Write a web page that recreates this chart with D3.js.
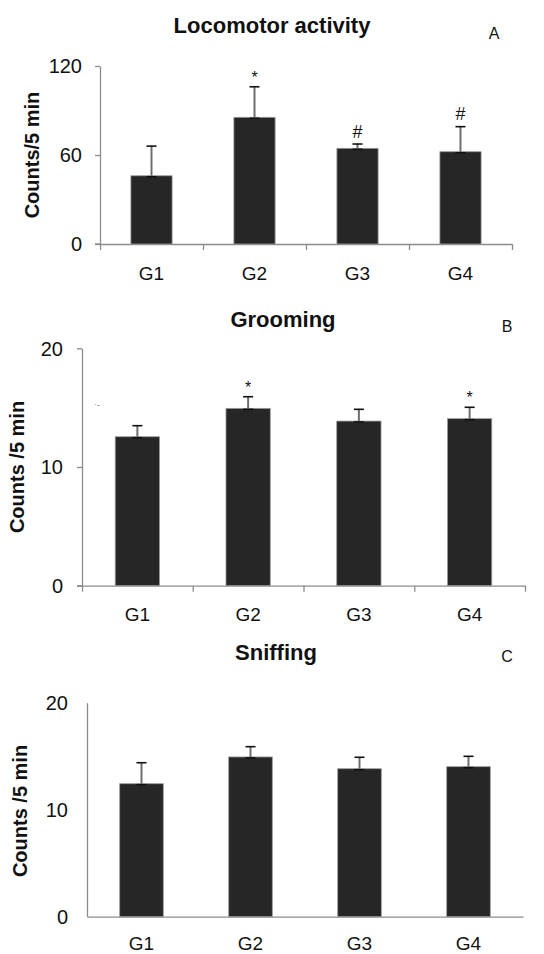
<!DOCTYPE html>
<html>
<head>
<meta charset="utf-8">
<script src="https://cdn.jsdelivr.net/npm/d3@7"></script>
<style>
	body { margin: 0; background: #fff; }
	svg { display: block; font-family: "Liberation Sans", Arial, sans-serif; }
</style>
</head>
<body>
<svg id="chart" width="544" height="954"></svg>
<script>

var groups = [ 'G1', 'G2', 'G3', 'G4' ];

var locomotorMeans = [ 46, 85.4, 64.5, 62.2 ];
var locomotorErrors = [ 20, 20.6, 2.9, 16.9 ];
var locomotorMarks = [ '', '*', '#', '#' ];
var locomotorTicks = [ 0, 60, 120 ];

var groomingMeans = [ 12.55, 14.94, 13.87, 14.07 ];
var groomingErrors = [ 0.93, 0.98, 0.99, 0.96 ];
var groomingMarks = [ '', '*', '', '*' ];

var sniffingMeans = [ 12.43, 14.93, 13.83, 14.02 ];
var sniffingErrors = [ 1.96, 0.96, 1.07, 0.97 ];
var sniffingMarks = [ '', '', '', '' ];

var countTicks = [ 0, 10, 20 ];

var svg = d3.select( '#chart' );

var drawPanel = function ( opts ) {

	var g = svg.append( 'g' );

	var x = d3.scaleBand().domain( groups ).range( [ opts.left, opts.right ] )
		.paddingInner( 0.6 ).paddingOuter( 0.3 );
	var edges = d3.scaleLinear().domain( [ 0, groups.length ] ).range( [ opts.left, opts.right ] );
	var y = d3.scaleLinear().domain( [ 0, opts.max ] ).range( [ opts.bottom, opts.top ] );

	var data = groups.map( function ( name, i ) {
		return { name: name, mean: opts.means[i], err: opts.errors[i], mark: opts.marks[i] };
	} );

	// y axis
	var yAxis = d3.axisLeft( y )
		.tickValues( opts.ticks )
		.tickSize( opts.ticks_shown ? 5 : 0 )
		.tickSizeOuter( 0 )
		.tickFormat( '' );
	var ya = g.append( 'g' )
		.attr( 'transform', 'translate(' + opts.left + ',0)' )
		.call( yAxis );
	ya.selectAll( 'path, line' ).attr( 'stroke', '#8c8c8c' ).attr( 'stroke-width', 1.3 );

	g.selectAll( 'text.ytick' )
		.data( opts.ticks )
		.enter()
		.append( 'text' )
		.classed( 'ytick', true )
		.attr( 'x', opts.tickLabelX )
		.attr( 'y', function ( d ) { return y( d ); } )
		.attr( 'dy', '0.36em' )
		.attr( 'text-anchor', 'end' )
		.style( 'font-size', '20px' )
		.style( 'fill', '#111' )
		.text( function ( d ) { return d; } );

	// x axis with ticks on the band edges
	var xAxis = d3.axisBottom( edges )
		.tickValues( opts.ticks_shown ? d3.range( groups.length + 1 ) : [] )
		.tickSize( 6 )
		.tickSizeOuter( 0 )
		.tickFormat( '' );
	var xa = g.append( 'g' )
		.attr( 'transform', 'translate(0,' + opts.bottom + ')' )
		.call( xAxis );
	xa.selectAll( 'path, line' ).attr( 'stroke', '#8c8c8c' ).attr( 'stroke-width', 1.3 );
	if ( opts.ticks_shown ) {
		g.append( 'line' )
			.attr( 'x1', opts.left - 5 ).attr( 'x2', opts.left )
			.attr( 'y1', opts.bottom ).attr( 'y2', opts.bottom )
			.attr( 'stroke', '#8c8c8c' ).attr( 'stroke-width', 1.3 );
	}

	g.selectAll( 'text.xlab' )
		.data( groups )
		.enter()
		.append( 'text' )
		.classed( 'xlab', true )
		.attr( 'x', function ( d ) { return x( d ) + x.bandwidth() / 2; } )
		.attr( 'y', opts.xLabelY )
		.attr( 'text-anchor', 'middle' )
		.style( 'font-size', '19px' )
		.style( 'fill', '#111' )
		.text( function ( d ) { return d; } );

	// bars
	g.selectAll( 'rect.bar' )
		.data( data )
		.enter()
		.append( 'rect' )
		.classed( 'bar', true )
		.attr( 'x', function ( d ) { return x( d.name ); } )
		.attr( 'y', function ( d ) { return y( d.mean ); } )
		.attr( 'width', x.bandwidth() )
		.attr( 'height', function ( d ) { return opts.bottom - y( d.mean ); } )
		.attr( 'fill', '#262626' )
		.attr( 'stroke', '#9a9a9a' )
		.attr( 'stroke-width', 0.8 );

	// error bars
	var cx = function ( d ) { return x( d.name ) + x.bandwidth() / 2; };
	g.selectAll( 'line.err' )
		.data( data )
		.enter()
		.append( 'line' )
		.classed( 'err', true )
		.attr( 'x1', cx ).attr( 'x2', cx )
		.attr( 'y1', function ( d ) { return y( d.mean ); } )
		.attr( 'y2', function ( d ) { return y( d.mean + d.err ); } )
		.attr( 'stroke', '#6e6e6e' )
		.attr( 'stroke-width', 2 );

	[ 'top', 'base' ].forEach( function ( which ) {
		g.selectAll( 'line.cap-' + which )
			.data( data )
			.enter()
			.append( 'line' )
			.attr( 'x1', function ( d ) { return cx( d ) - 5; } )
			.attr( 'x2', function ( d ) { return cx( d ) + 5; } )
			.attr( 'y1', function ( d ) { return which === 'top' ? y( d.mean + d.err ) : y( d.mean ) + 1; } )
			.attr( 'y2', function ( d ) { return which === 'top' ? y( d.mean + d.err ) : y( d.mean ) + 1; } )
			.attr( 'stroke', '#111' )
			.attr( 'stroke-width', 1.6 );
	} );

	// significance marks
	g.selectAll( 'text.mark' )
		.data( data.filter( function ( d ) { return d.mark !== ''; } ) )
		.enter()
		.append( 'text' )
		.classed( 'mark', true )
		.attr( 'x', cx )
		.attr( 'y', function ( d ) {
			var center = y( d.mean + d.err ) - 13;
			return d.mark === '*' ? center + 9 : center + 6.5;
		} )
		.attr( 'text-anchor', 'middle' )
		.style( 'font-size', function ( d ) { return d.mark === '*' ? '16px' : '18px'; } )
		.style( 'fill', '#111' )
		.text( function ( d ) { return d.mark; } );

	// titles
	g.append( 'text' )
		.attr( 'x', opts.titleX )
		.attr( 'y', opts.titleY )
		.attr( 'text-anchor', 'middle' )
		.style( 'font-size', '22px' )
		.style( 'font-weight', 'bold' )
		.style( 'fill', '#111' )
		.text( opts.title );

	g.append( 'text' )
		.attr( 'x', opts.letterX )
		.attr( 'y', opts.letterY )
		.attr( 'text-anchor', 'middle' )
		.style( 'font-size', '16px' )
		.style( 'fill', '#111' )
		.text( opts.letter );

	g.append( 'text' )
		.attr( 'transform', 'translate(' + ( opts.yLabelX + 7 ) + ',' + opts.yLabelY + ') rotate(-90)' )
		.attr( 'text-anchor', 'middle' )
		.style( 'font-size', '20px' )
		.style( 'font-weight', 'bold' )
		.style( 'fill', '#111' )
		.text( opts.yLabel );

};

drawPanel( {
	means: locomotorMeans, errors: locomotorErrors, marks: locomotorMarks,
	ticks: locomotorTicks, max: 120, ticks_shown: true,
	left: 100, right: 512, top: 66, bottom: 244,
	tickLabelX: 82, xLabelY: 280,
	title: 'Locomotor activity', titleX: 272, titleY: 33,
	letter: 'A', letterX: 494, letterY: 39,
	yLabel: 'Counts/5 min', yLabelX: 32, yLabelY: 155
} );

drawPanel( {
	means: groomingMeans, errors: groomingErrors, marks: groomingMarks,
	ticks: countTicks, max: 20, ticks_shown: true,
	left: 82, right: 525, top: 348.3, bottom: 585.7,
	tickLabelX: 63, xLabelY: 621,
	title: 'Grooming', titleX: 283, titleY: 327,
	letter: 'B', letterX: 507, letterY: 332,
	yLabel: 'Counts /5 min', yLabelX: 17, yLabelY: 467
} );

drawPanel( {
	means: sniffingMeans, errors: sniffingErrors, marks: sniffingMarks,
	ticks: countTicks, max: 20, ticks_shown: false,
	left: 87, right: 523, top: 702.7, bottom: 916.7,
	tickLabelX: 68, xLabelY: 950,
	title: 'Sniffing', titleX: 276, titleY: 660,
	letter: 'C', letterX: 507, letterY: 662,
	yLabel: 'Counts /5 min', yLabelX: 20, yLabelY: 811
} );

// small stray mark left of panel B
svg.append( 'text' )
	.attr( 'x', 97 ).attr( 'y', 407 )
	.attr( 'text-anchor', 'middle' )
	.style( 'font-size', '8px' )
	.style( 'fill', '#555' )
	.text( '·-' );

</script>
</body>
</html>
